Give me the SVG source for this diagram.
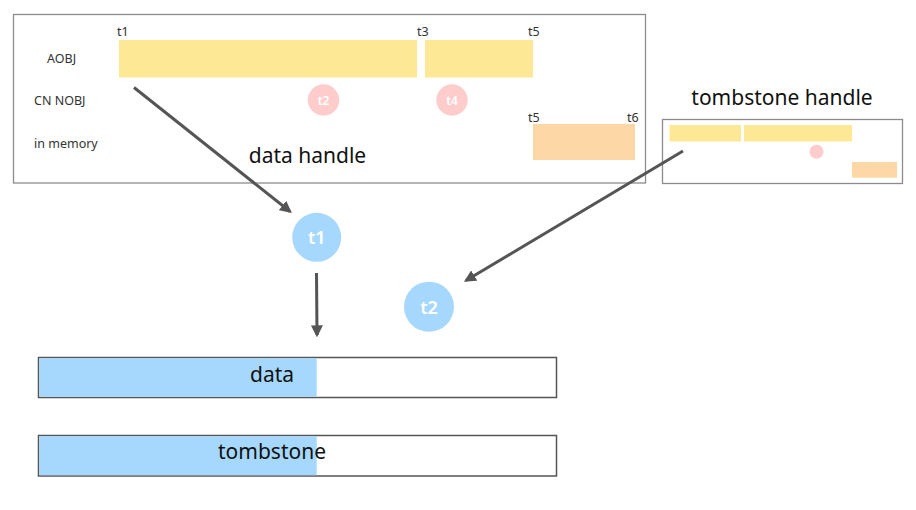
<svg xmlns="http://www.w3.org/2000/svg" width="916" height="510" viewBox="0 0 916 510">
<style>
.frame{fill:#fff;stroke:#8c8c8c;stroke-width:1.3}
.box{fill:#fff;stroke:#555;stroke-width:1.5}
.ybar{fill:#fde995}
.obar{fill:#fed7a6}
.pink{fill:#ffcccc}
.blue{fill:#a6d8fd}
.sm{font-family:"Noto Sans","Liberation Sans",sans-serif;font-size:12.5px;fill:#333}
.lg{font-family:"Noto Sans","Liberation Sans",sans-serif;font-size:21px;fill:#111}
.wt{font-family:"Noto Sans","Liberation Sans",sans-serif;fill:#fff;text-anchor:middle;font-weight:600}
.conn{stroke:#555;stroke-width:3;fill:none;marker-end:url(#ah)}
</style>
<defs>
<marker id="ah" viewBox="0 0 10 10" refX="8" refY="5" markerWidth="4" markerHeight="4" orient="auto" markerUnits="strokeWidth">
<path d="M0,0 L10,5 L0,10 z" fill="#555"/>
</marker>
</defs>
<g id="timeline">
<rect class="frame" x="13.5" y="14.5" width="632" height="168.5"/>
<text class="sm" x="47" y="63">AOBJ</text>
<text class="sm" x="34" y="105">CN NOBJ</text>
<text class="sm" x="34" y="148">in memory</text>
<text class="sm" x="117" y="36">t1</text>
<text class="sm" x="417" y="36">t3</text>
<text class="sm" x="528" y="36">t5</text>
<rect class="ybar" x="119" y="40" width="298" height="37.5"/>
<rect class="ybar" x="425" y="40" width="108" height="37.5"/>
<circle class="pink" cx="323.5" cy="100" r="15.7"/>
<text class="wt" x="323.5" y="104.5" font-size="12">t2</text>
<circle class="pink" cx="452" cy="100" r="15.7"/>
<text class="wt" x="452" y="104.5" font-size="12">t4</text>
<text class="sm" x="528" y="122">t5</text>
<text class="sm" x="627" y="122">t6</text>
<rect class="obar" x="533" y="124" width="102" height="36"/>
<text class="lg" x="307.5" y="163" text-anchor="middle">data handle</text>
</g>
<g id="tombstone-handle">
<text class="lg" x="782" y="105" text-anchor="middle">tombstone handle</text>
<rect class="frame" x="662.5" y="119.5" width="240" height="64"/>
<rect class="ybar" x="669.5" y="125" width="71.5" height="16.5"/>
<rect class="ybar" x="744" y="125" width="108" height="16.5"/>
<circle class="pink" cx="816.5" cy="151.7" r="7"/>
<rect class="obar" x="852" y="162" width="45" height="15.7"/>
</g>
<g id="t1">
<circle class="blue" cx="316.7" cy="237.3" r="24.5"/>
<text class="wt" x="316.7" y="244" font-size="18">t1</text>
</g>
<g id="t2">
<circle class="blue" cx="429" cy="306.7" r="25"/>
<text class="wt" x="429" y="313.5" font-size="18">t2</text>
</g>
<g id="data">
<rect class="box" x="38.5" y="357.5" width="518" height="40"/>
<rect class="blue" x="39.3" y="358.3" width="277.4" height="38.4"/>
<text class="lg" x="272" y="382" text-anchor="middle">data</text>
</g>
<g id="tombstone">
<rect class="box" x="38.5" y="435.5" width="518" height="40.5"/>
<rect class="blue" x="39.3" y="436.3" width="277.4" height="38.9"/>
<text class="lg" x="272" y="459" text-anchor="middle">tombstone</text>
</g>
<g id="connectors">
<line class="conn" x1="134" y1="87.5" x2="290" y2="211.5"/>
<line class="conn" x1="316.5" y1="273" x2="317" y2="335"/>
<line class="conn" x1="683" y1="151" x2="466" y2="280.5"/>
</g>
</svg>
